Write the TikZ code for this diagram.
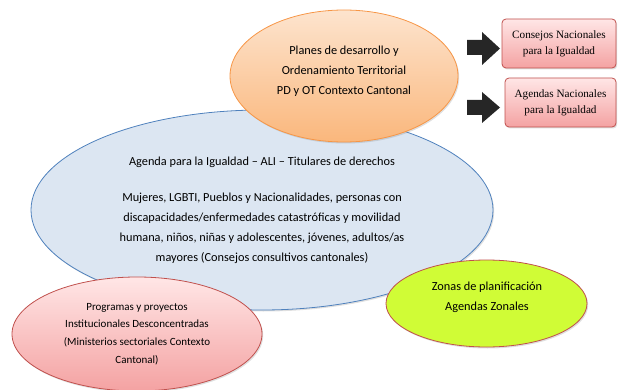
\documentclass[tikz,border=0pt]{standalone}
\usepackage{fontspec}
\setmainfont{Carlito}
\newfontfamily\timesfont{Liberation Serif}
\usetikzlibrary{shapes.geometric,shadows}
\definecolor{orangeborder}{HTML}{F79646}
\definecolor{orangetop}{HTML}{FDE4CE}
\definecolor{orangebot}{HTML}{FAB77C}
\definecolor{blueborder}{HTML}{4F81BD}
\definecolor{bluefill}{HTML}{DCE6F2}
\definecolor{redborder}{HTML}{C0504D}
\definecolor{pinktop}{HTML}{FFE6E6}
\definecolor{pinkbot}{HTML}{F4A2A2}
\definecolor{greenfill}{HTML}{D0FC36}
\definecolor{arrowfill}{HTML}{262626}
\tikzset{
  ell/.style={ellipse, inner sep=0pt, align=center},
  softshadow/.style={drop shadow={shadow xshift=1.2pt, shadow yshift=-1.5pt, opacity=0.25}},
  txt/.style={align=center, inner sep=0pt},
  nbox/.style={rectangle, rounded corners=4pt, draw=redborder, line width=0.8pt,
    top color=pinktop, bottom color=pinkbot, align=center, inner sep=0pt,
    font=\timesfont\fontsize{11.2}{16}\selectfont, softshadow},
  blockarrow/.style={fill=arrowfill, draw=none}
}
\begin{document}
\begin{tikzpicture}[x=1pt,y=1pt]
\useasboundingbox (0,0) rectangle (621,389);
% blue ellipse
\node[ell, minimum width=462pt, minimum height=200pt, draw=blueborder, line width=0.8pt,
  fill=bluefill, softshadow, font=\fontsize{12.3}{20}\selectfont] (blue) at (262,179)
  {Agenda para la Igualdad -- ALI -- Titulares de derechos\\[16pt]
   Mujeres, LGBTI, Pueblos y Nacionalidades, personas con\\
   discapacidades/enfermedades catastróficas y movilidad\\
   humana, niños, niñas y adolescentes, jóvenes, adultos/as\\
   mayores (Consejos consultivos cantonales)};
% orange ellipse
\node[ell, minimum width=228pt, minimum height=132pt, draw=orangeborder, line width=0.8pt,
  top color=orangetop, bottom color=orangebot, softshadow] (orange) at (344,313) {};
\node[txt, font=\fontsize{12.3}{20}\selectfont] (orangetxt) at (344,318)
  {Planes de desarrollo y\\Ordenamiento Territorial\\PD y OT Contexto Cantonal};
% pink ellipse
\node[ell, minimum width=250pt, minimum height=114pt, draw=redborder, line width=0.8pt,
  top color=pinktop, bottom color=pinkbot, softshadow, font=\fontsize{11}{17.7}\selectfont]
  (pink) at (137,55)
  {Programas y proyectos\\Institucionales Desconcentradas\\(Ministerios sectoriales Contexto\\Cantonal)};
% green ellipse
\node[ell, minimum width=201pt, minimum height=87pt, draw=redborder, line width=0.8pt,
  fill=greenfill, softshadow] (green) at (486.5,85.5) {};
\node[txt, font=\fontsize{12.3}{20}\selectfont] (greentxt) at (487,92)
  {Zonas de planificación\\Agendas Zonales};
% boxes
\node[nbox, minimum width=114pt, minimum height=49pt] (box1) at (559,345.5)
  {Consejos Nacionales\\para la Igualdad};
\node[nbox, minimum width=111pt, minimum height=49pt] (box2) at (560.5,286.5)
  {Agendas Nacionales\\para la Igualdad};
% block arrows
\fill[blockarrow] (467,349) -- (482,349) -- (482,357) -- (500,340.5) -- (482,324)
  -- (482,334) -- (467,334) -- cycle;
\fill[blockarrow] (467,289) -- (482,289) -- (482,297) -- (500,281.5) -- (482,266)
  -- (482,274) -- (467,274) -- cycle;
\end{tikzpicture}
\end{document}
